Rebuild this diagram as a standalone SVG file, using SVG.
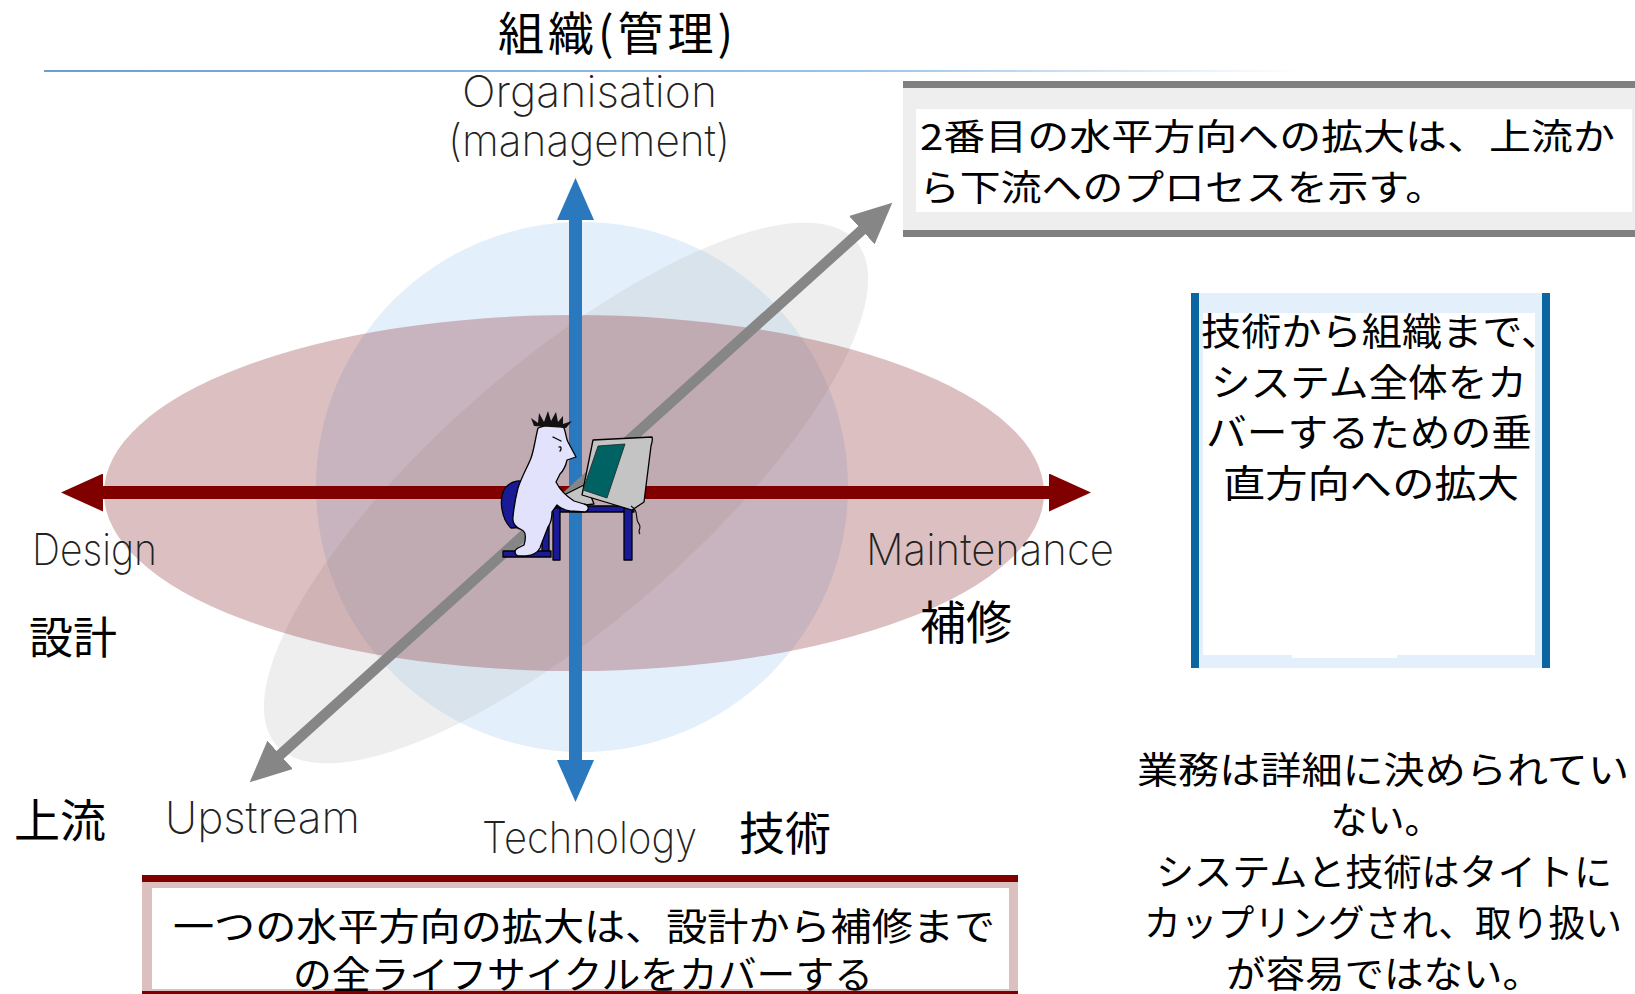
<svg xmlns="http://www.w3.org/2000/svg" width="1635" height="994" viewBox="0 0 1635 994">
  <defs>
    <style>
      .jp { font-family: "Noto Sans CJK JP", "Noto Sans CJK SC", sans-serif; fill: #000; }
      .hand { font-family: "Inter", "Lato", "DejaVu Sans", sans-serif; font-weight: 200; fill: #222; font-size: 44px; }
      .ink { stroke: #000; stroke-width: 1.3; stroke-linejoin: round; stroke-linecap: round; }
      .axis { fill: none; stroke-linecap: butt; }
    </style>
    <linearGradient id="ruleFade" x1="44" y1="0" x2="1300" y2="0" gradientUnits="userSpaceOnUse">
      <stop offset="0" stop-color="#6a9fd4"/>
      <stop offset="0.65" stop-color="#9cc3e8"/>
      <stop offset="1" stop-color="#ffffff"/>
    </linearGradient>
    <marker id="headBlue" viewBox="0 -19 42 38" markerWidth="42" markerHeight="38" refX="1" refY="0" markerUnits="userSpaceOnUse" orient="auto-start-reverse">
      <path d="M0,-18.5 L42,0 L0,18.5 z" fill="#2a78bd"/>
    </marker>
    <marker id="headRed" viewBox="0 -19 42 38" markerWidth="42" markerHeight="38" refX="1" refY="0" markerUnits="userSpaceOnUse" orient="auto-start-reverse">
      <path d="M0,-19 L42,0 L0,19 z" fill="#800000"/>
    </marker>
    <marker id="headGrey" viewBox="0 -19 42 38" markerWidth="42" markerHeight="38" refX="1" refY="0" markerUnits="userSpaceOnUse" orient="auto-start-reverse">
      <path d="M0,-19 L41,0 L0,19 z" fill="#868686"/>
    </marker>
  </defs>

  <rect width="1635" height="994" fill="#ffffff"/>

  <!-- three overlapping domains -->
  <g id="domain-organisation">
    <ellipse cx="582" cy="487" rx="266" ry="265" fill="#e3f0fc"/>
  </g>
  <g id="domain-process">
    <ellipse cx="566" cy="493" rx="384" ry="130" transform="rotate(-41 566 493)" fill="#bbbbbb" fill-opacity="0.25"/>
  </g>
  <g id="domain-lifecycle">
    <ellipse cx="574" cy="493" rx="470" ry="178" fill="#8a2a2d" fill-opacity="0.3"/>
  </g>

  <!-- heading -->
  <g id="title">
    <text class="jp" x="498" y="50" font-size="46" textLength="235" lengthAdjust="spacing">組織(管理)</text>
    <line x1="44" y1="71" x2="1300" y2="71" stroke="url(#ruleFade)" stroke-width="2"/>
  </g>

  <!-- axes -->
  <g id="connectors">
    <line class="axis" x1="575.5" y1="219" x2="575.5" y2="761" stroke="#2a78bd" stroke-width="13" marker-start="url(#headBlue)" marker-end="url(#headBlue)"/>
    <line class="axis" x1="102" y1="492.5" x2="1050" y2="492.5" stroke="#800000" stroke-width="13" marker-start="url(#headRed)" marker-end="url(#headRed)"/>
    <line class="axis" x1="279.4" y1="755.5" x2="862.6" y2="229.5" stroke="#868686" stroke-width="10.5" marker-start="url(#headGrey)" marker-end="url(#headGrey)"/>
  </g>

  <!-- developer at the desk -->
  <g id="person">
    <!-- chair -->
    <path class="ink" d="M505,488 C512,480 522,479 526,484 L528,527 L511,528 C502,520 498,500 505,488 Z" fill="#1a1a96"/>
    <rect class="ink" x="542" y="522" width="7" height="33" fill="#1a1a96"/>
    <rect class="ink" x="503" y="551" width="48" height="6" fill="#1a1a96"/>
    <!-- desk -->
    <rect class="ink" x="556" y="506" width="78" height="6" fill="#1a1a96"/>
    <rect class="ink" x="553" y="508" width="7" height="52" fill="#1a1a96"/>
    <rect class="ink" x="624" y="508" width="8" height="52" fill="#1a1a96"/>
    <!-- keyboard wedge -->
    <path class="ink" d="M560,497 L586,484 L594,504 L568,507 Z" fill="#c4c4c4"/>
    <!-- body -->
    <path class="ink" fill="#e2e2fc" d="M538,428 C548,424 558,423 564,428 C566,433 566,438 568,442 L576,457 L567,460 C566,465 564,470 560,474 L556,482 C560,490 566,496 574,501 L584,504 C589,505 590,510 585,512 L570,511 C564,510 560,508 557,505 L552,512 C552,518 551,523 548,527 C545,535 542,542 540,548 C538,552 534,555 526,556 L518,556 C514,554 514,550 518,548 L524,545 C526,538 526,532 522,530 C516,528 512,523 513,517 C514,506 516,496 518,488 C522,476 528,466 531,458 C534,450 535,440 538,428 Z"/>
    <path d="M534,426 L531,418 L538,423 L539,413 L544,422 L548,411 L551,421 L556,412 L558,422 L563,416 L563,424 L572,421 L566,428 Z" fill="#111"/>
    <path class="ink" d="M553,437 L561,441" fill="none"/>
    <path class="ink" d="M559,447 C561,446 562,449 560,451" fill="none"/>
    <!-- monitor -->
    <path class="ink" d="M593,440 L652,437 C653,440 652,443 651,446 L644,502 L632,510 L582,495 Z" fill="#c4c4c4"/>
    <path d="M598,446 L625,444 L607,498 L583,490 Z" fill="#006262" stroke="#222" stroke-width="0.8"/>
    <path d="M631,506 C640,512 634,518 639,524 C642,528 637,531 640,534" fill="none" stroke="#111" stroke-width="1.2"/>
  </g>

  <!-- axis captions -->
  <g id="label-organisation">
    <text class="hand" x="462" y="107" textLength="255" lengthAdjust="spacingAndGlyphs">Organisation</text>
    <text class="hand" x="448" y="156" textLength="282" lengthAdjust="spacingAndGlyphs">(management)</text>
  </g>
  <g id="label-design">
    <text class="hand" x="32" y="565" textLength="125" lengthAdjust="spacingAndGlyphs">Design</text>
    <text class="jp" x="29" y="654" font-size="44">設計</text>
  </g>
  <g id="label-maintenance">
    <text class="hand" x="866" y="565" textLength="248" lengthAdjust="spacingAndGlyphs">Maintenance</text>
    <text class="jp" x="920" y="639" font-size="46">補修</text>
  </g>
  <g id="label-upstream">
    <text class="jp" x="14" y="837" font-size="46">上流</text>
    <text class="hand" x="165" y="833" textLength="195" lengthAdjust="spacingAndGlyphs">Upstream</text>
  </g>
  <g id="label-technology">
    <text class="hand" x="482" y="853" textLength="215" lengthAdjust="spacingAndGlyphs">Technology</text>
    <text class="jp" x="739" y="850" font-size="46">技術</text>
  </g>

  <!-- note: second horizontal extension -->
  <g id="note-process">
    <rect x="903" y="87" width="732" height="144" fill="#eeeeee"/>
    <rect x="903" y="81" width="732" height="7" fill="#808080"/>
    <rect x="903" y="230" width="732" height="7" fill="#808080"/>
    <rect x="916" y="109" width="716" height="103" fill="#ffffff"/>
    <text class="jp" font-size="36" x="920" y="150" textLength="695" lengthAdjust="spacingAndGlyphs">2番目の水平方向への拡大は、上流か</text>
    <text class="jp" font-size="36" x="919" y="201" textLength="527" lengthAdjust="spacingAndGlyphs">ら下流へのプロセスを示す。</text>
  </g>

  <!-- note: vertical extension -->
  <g id="note-vertical">
    <rect x="1199" y="293" width="343" height="375" fill="#e3f0fc"/>
    <rect x="1191" y="293" width="8" height="375" fill="#0a65a0"/>
    <rect x="1542" y="293" width="8" height="375" fill="#0a65a0"/>
    <rect x="1203" y="313" width="332" height="342" fill="#ffffff"/>
    <rect x="1292" y="650" width="105" height="8" fill="#ffffff"/>
    <text class="jp" font-size="38" x="1201" y="345" textLength="360" lengthAdjust="spacingAndGlyphs">技術から組織まで、</text>
    <text class="jp" font-size="38" x="1211" y="396" textLength="316" lengthAdjust="spacingAndGlyphs">システム全体をカ</text>
    <text class="jp" font-size="38" x="1206" y="446" textLength="326" lengthAdjust="spacingAndGlyphs">バーするための垂</text>
    <text class="jp" font-size="38" x="1223" y="497" textLength="296" lengthAdjust="spacingAndGlyphs">直方向への拡大</text>
  </g>

  <!-- note: horizontal extension (life cycle) -->
  <g id="note-lifecycle">
    <rect x="142" y="882" width="876" height="112" fill="#dcc0c0"/>
    <rect x="142" y="875" width="876" height="7" fill="#800000"/>
    <rect x="142" y="991" width="876" height="6" fill="#800000"/>
    <rect x="152" y="888" width="857" height="101" fill="#ffffff"/>
    <text class="jp" font-size="38" x="173" y="940" textLength="822" lengthAdjust="spacingAndGlyphs">一つの水平方向の拡大は、設計から補修まで</text>
    <text class="jp" font-size="38" x="293" y="988" textLength="580" lengthAdjust="spacingAndGlyphs">の全ライフサイクルをカバーする</text>
  </g>

  <!-- note: coupling of business, system and technology -->
  <g id="note-coupling">
    <text class="jp" font-size="37" x="1137" y="784" textLength="492" lengthAdjust="spacingAndGlyphs">業務は詳細に決められてい</text>
    <text class="jp" font-size="37" x="1386" y="834" text-anchor="middle">ない。</text>
    <text class="jp" font-size="37" x="1156" y="886" textLength="456" lengthAdjust="spacingAndGlyphs">システムと技術はタイトに</text>
    <text class="jp" font-size="37" x="1144" y="937" textLength="478" lengthAdjust="spacingAndGlyphs">カップリングされ、取り扱い</text>
    <text class="jp" font-size="37" x="1226" y="988" textLength="316" lengthAdjust="spacingAndGlyphs">が容易ではない。</text>
  </g>
</svg>
